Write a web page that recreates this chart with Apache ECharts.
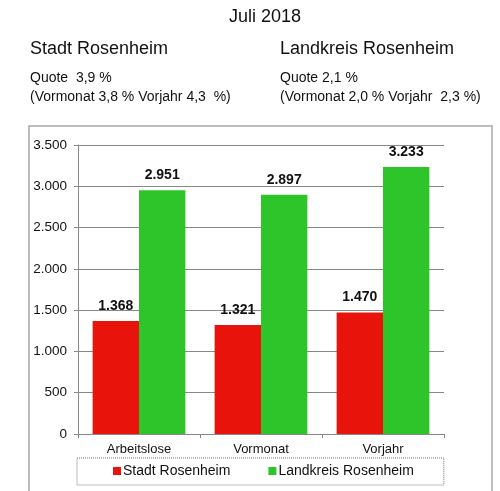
<!DOCTYPE html>
<html>
<head>
<meta charset="UTF-8">
<title>Arbeitslose Juli 2018</title>
<script src="https://cdn.jsdelivr.net/npm/echarts@6/dist/echarts.min.js"></script>
<style>
	html, body { margin: 0; padding: 0; background: #fff; }
	#chart { width: 500px; height: 491px; }
</style>
</head>
<body>
<div id="chart"></div>
<script type="text/javascript">
	// Kategorien und Werte
	var categories = ['Arbeitslose', 'Vormonat', 'Vorjahr'];
	var stadtWerte = [1368, 1321, 1470];
	var landkreisWerte = [2951, 2897, 3233];
	var seriesNames = ['Stadt Rosenheim', 'Landkreis Rosenheim'];

	var FONT = '"Liberation Sans", Arial, sans-serif';

	// 1234 -> "1.234"
	function tausender(v) {
		return String(v).replace(/\B(?=(\d{3})+(?!\d))/g, '.');
	}

	var myChart = echarts.init(document.getElementById('chart'));

	var option = {
		backgroundColor: '#fff',
		animation: false,
		textStyle: { fontFamily: FONT },
		title: [
			{ text: 'Juli 2018', left: 229, top: 8, padding: 0,
			  textStyle: { fontSize: 18, fontWeight: 'normal', color: '#111', fontFamily: FONT } },
			{ text: 'Stadt Rosenheim', left: 30, top: 40, padding: 0,
			  textStyle: { fontSize: 18, fontWeight: 'normal', color: '#111', fontFamily: FONT } },
			{ text: 'Landkreis Rosenheim', left: 280, top: 40, padding: 0,
			  textStyle: { fontSize: 18, fontWeight: 'normal', color: '#111', fontFamily: FONT } },
			{ text: 'Quote  3,9 %', left: 30, top: 71, padding: 0,
			  textStyle: { fontSize: 14, fontWeight: 'normal', color: '#111', fontFamily: FONT } },
			{ text: '(Vormonat 3,8 % Vorjahr 4,3  %)', left: 30, top: 90, padding: 0,
			  textStyle: { fontSize: 14, fontWeight: 'normal', color: '#111', fontFamily: FONT } },
			{ text: 'Quote 2,1 %', left: 280, top: 71, padding: 0,
			  textStyle: { fontSize: 14, fontWeight: 'normal', color: '#111', fontFamily: FONT } },
			{ text: '(Vormonat 2,0 % Vorjahr  2,3 %)', left: 280, top: 90, padding: 0,
			  textStyle: { fontSize: 14, fontWeight: 'normal', color: '#111', fontFamily: FONT } }
		],
		// äußerer Rahmen
		graphic: [{
			type: 'rect',
			silent: true,
			shape: { x: 29, y: 126, width: 463, height: 400 },
			style: { fill: 'none', stroke: '#a8a8a8', lineWidth: 1.5 }
		}],
		legend: {
			data: seriesNames,
			left: 77,
			top: 458,
			padding: [6, 30, 7, 36],
			itemWidth: 8,
			itemHeight: 8,
			itemGap: 38,
			icon: 'rect',
			borderColor: '#777',
			borderWidth: 1,
			borderType: 'dotted',
			textStyle: { fontSize: 14, color: '#111', fontFamily: FONT, padding: [0, 0, 0, -3] }
		},
		grid: {
			left: 78,
			right: 56,
			top: 145,
			bottom: 57,
			containLabel: false
		},
		xAxis: {
			type: 'category',
			data: categories,
			axisLine: { lineStyle: { color: '#888', width: 1 } },
			axisTick: { show: true, length: 4, lineStyle: { color: '#888' } },
			axisLabel: { fontSize: 13, color: '#111', margin: 9, fontFamily: FONT }
		},
		yAxis: {
			type: 'value',
			min: 0,
			max: 3500,
			interval: 500,
			axisLine: { show: true, lineStyle: { color: '#888', width: 1 } },
			axisTick: { show: true, length: 4, lineStyle: { color: '#888' } },
			splitLine: { show: true, lineStyle: { color: '#888', width: 1 } },
			axisLabel: { fontSize: 13.5, color: '#111', margin: 11, fontFamily: FONT,
				formatter: function(v) { return tausender(v); } }
		},
		series: [{
			name: seriesNames[0],
			type: 'bar',
			data: stadtWerte,
			barGap: '0%',
			barCategoryGap: '24%',
			itemStyle: { color: '#e8140c' },
			label: {
				show: true, position: 'top', distance: 8,
				fontSize: 14, fontWeight: 'bold', color: '#111', fontFamily: FONT,
				formatter: function(p) { return tausender(p.value); }
			}
		}, {
			name: seriesNames[1],
			type: 'bar',
			data: landkreisWerte,
			barGap: '0%',
			barCategoryGap: '24%',
			itemStyle: { color: '#2dc52a' },
			label: {
				show: true, position: 'top', distance: 8,
				fontSize: 14, fontWeight: 'bold', color: '#111', fontFamily: FONT,
				formatter: function(p) { return tausender(p.value); }
			}
		}]
	};

	myChart.setOption(option);
</script>
</body>
</html>
